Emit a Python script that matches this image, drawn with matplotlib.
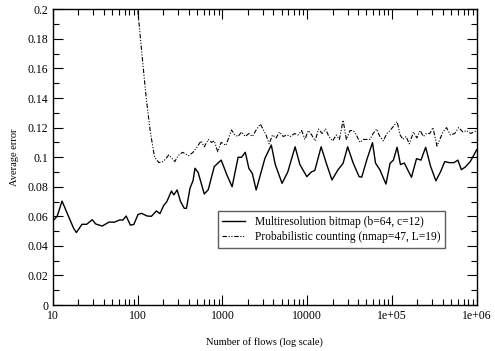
import numpy as np
import matplotlib
matplotlib.use("Agg")
import matplotlib.pyplot as plt
from matplotlib.ticker import MultipleLocator, FixedLocator, FixedFormatter, NullFormatter

plt.rcParams["font.family"] = ["Liberation Serif", "DejaVu Serif"]

# Multiresolution bitmap (b=64, c=12)
mrb_x = [10, 11.2, 12.8, 15.5, 17.5, 18.9, 22, 25, 29, 32, 38, 46, 53, 61, 67, 73, 82, 90,
         101, 111, 129, 145, 166, 183, 203, 221, 250, 267, 292, 320, 354, 376, 414, 450, 474,
         517, 610, 680, 800, 966, 1130, 1300, 1530, 1680, 1860, 2050, 2250, 2500, 2800,
         3170, 3770, 4200, 5050, 5900, 7200, 8200, 9900, 11200, 12300, 14600, 17000, 19600,
         23000, 26500, 30000, 35000, 41000, 44000, 51000, 59000, 64000, 72000, 85000, 95000,
         104000, 115000, 126000, 140000, 170000, 195000, 220000, 250000, 285000, 330000,
         375000, 420000, 475000, 540000, 600000, 660000, 740000, 840000, 1000000]
mrb_y = [0.057, 0.060, 0.0703, 0.059, 0.052, 0.049, 0.0546, 0.0546, 0.0577, 0.0548, 0.0534,
         0.0561, 0.056, 0.0575, 0.0575, 0.0602, 0.054, 0.0545, 0.0613, 0.062, 0.0602, 0.060,
         0.0636, 0.0618, 0.0674, 0.070, 0.0771, 0.0745, 0.0778, 0.070, 0.0654, 0.0654, 0.079,
         0.0842, 0.0925, 0.0896, 0.0751, 0.078, 0.0936, 0.098, 0.0879, 0.080, 0.0999, 0.0999,
         0.1033, 0.0924, 0.089, 0.0778, 0.088, 0.0992, 0.1082, 0.095, 0.0823, 0.090, 0.107,
         0.095, 0.0868, 0.090, 0.091, 0.107, 0.095, 0.0846, 0.0913, 0.0958, 0.107, 0.0958,
         0.0868, 0.0865, 0.099, 0.1098, 0.096, 0.0915, 0.0818, 0.0958, 0.098, 0.1067, 0.095,
         0.096, 0.0864, 0.099, 0.098, 0.1067, 0.094, 0.084, 0.0902, 0.097, 0.0963, 0.0963,
         0.098, 0.0915, 0.0935, 0.097, 0.105]

# Probabilistic counting (nmap=47, L=19)
pc_x = [89, 100, 112, 126, 141, 158, 178, 200, 233, 274, 300, 338, 400, 450, 517, 560, 610,
        680, 740, 800, 880, 966, 1100, 1280, 1400, 1530, 1680, 1860, 2050, 2250, 2500, 2800,
        3270, 3550, 3900, 4300, 4700, 5200, 5800, 6400, 7100, 7800, 8600, 9400, 10300, 11300,
        12400, 13600, 15000, 16500, 18000, 20000, 22000, 24000, 26500, 29000, 32000, 35000,
        38000, 42000, 46000, 50000, 55000, 60000, 66000, 72000, 79000, 87000, 95000, 115000,
        125000, 135000, 147000, 160000, 180000, 197000, 215000, 235000, 255000, 280000,
        305000, 340000, 400000, 440000, 490000, 550000, 610000, 690000, 760000, 850000, 1000000]
pc_y = [0.25, 0.2, 0.170, 0.140, 0.117, 0.100, 0.0963, 0.097, 0.1015, 0.097, 0.101, 0.1033,
        0.101, 0.1033, 0.108, 0.111, 0.107, 0.112, 0.110, 0.111, 0.1037, 0.110, 0.108,
        0.1184, 0.115, 0.114, 0.117, 0.114, 0.116, 0.114, 0.1184, 0.1224, 0.115, 0.109,
        0.115, 0.113, 0.117, 0.114, 0.115, 0.114, 0.116, 0.115, 0.118, 0.112, 0.118, 0.115,
        0.111, 0.119, 0.116, 0.119, 0.114, 0.111, 0.115, 0.112, 0.125, 0.112, 0.118, 0.118,
        0.115, 0.110, 0.112, 0.112, 0.112, 0.116, 0.119, 0.114, 0.111, 0.116, 0.118, 0.124,
        0.115, 0.112, 0.114, 0.109, 0.117, 0.113, 0.118, 0.114, 0.116, 0.116, 0.120, 0.1075,
        0.117, 0.120, 0.115, 0.116, 0.120, 0.117, 0.118, 0.116, 0.118]

x_ticks = [10, 100, 1000, 10000, 100000, 1000000]
x_labels = ["10", "100", "1000", "10000", "1e+05", "1e+06"]

fig = plt.figure(figsize=(4.95, 3.51), dpi=100)
ax = fig.add_axes([0.107, 0.131, 0.856, 0.8425])

ax.plot(mrb_x, mrb_y, color="black", lw=1.0, label="Multiresolution bitmap (b=64, c=12)")
ax.plot(pc_x, pc_y, color="black", lw=0.8, dashes=[4, 1.5, 1, 1.5, 1, 1.5],
        label="Probabilistic counting (nmap=47, L=19)")

ax.set_xscale("log")
ax.set_xlim(10, 1e6)
ax.set_ylim(0, 0.2)
ax.xaxis.set_major_locator(FixedLocator(x_ticks))
ax.xaxis.set_major_formatter(FixedFormatter(x_labels))
ax.xaxis.set_minor_formatter(NullFormatter())
ax.yaxis.set_major_locator(MultipleLocator(0.02))
ax.yaxis.set_minor_locator(MultipleLocator(0.01))
ax.yaxis.set_major_formatter(plt.FuncFormatter(lambda v, p: f"{v:g}"))

ax.tick_params(which="both", direction="in", top=True, right=True, labelsize=8.5, width=0.8)
ax.tick_params(which="major", length=7)
ax.tick_params(which="minor", length=4)
for s in ax.spines.values():
    s.set_linewidth(1.0)

ax.set_xlabel("Number of flows (log scale)", fontsize=7.5, labelpad=11)
ax.set_ylabel("Average error", fontsize=7.5, labelpad=6)

leg = ax.legend(loc="upper left", bbox_to_anchor=(0.389, 0.318), fontsize=8.3,
                frameon=True, fancybox=False, handlelength=2.0, borderpad=0.4,
                labelspacing=0.3, borderaxespad=0)
leg.get_frame().set_edgecolor("#333333")
leg.get_frame().set_linewidth(1.0)

fig.savefig("out.png", dpi=100)
